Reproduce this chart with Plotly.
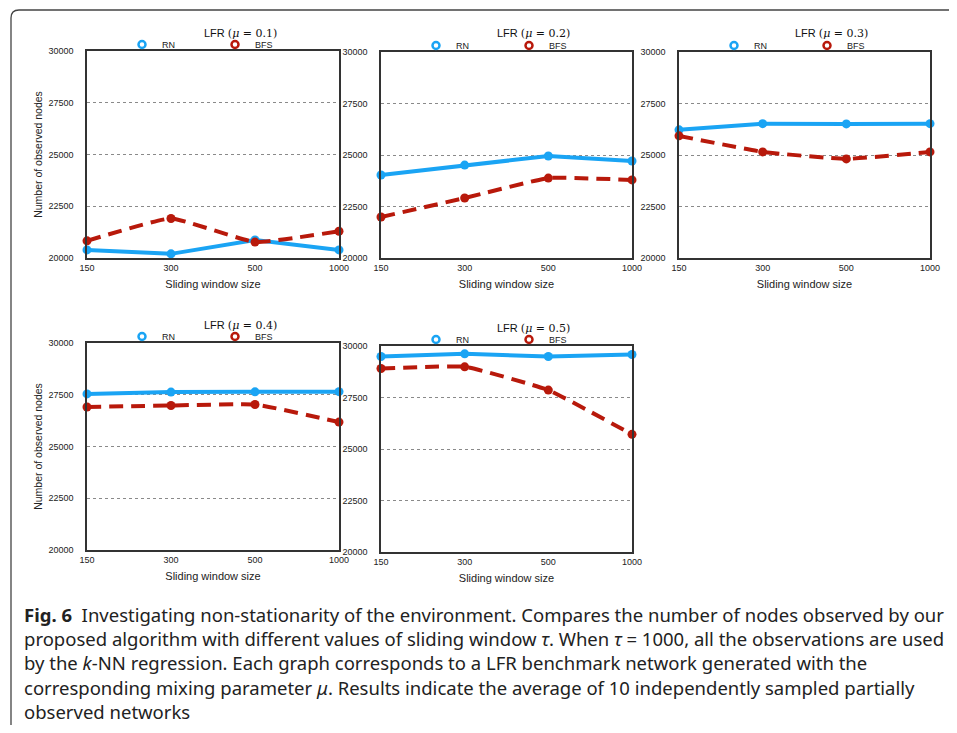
import plotly.graph_objects as go

# page has an 8px body margin: size the figure so the page fits the 957x733 window
OFF = 8
W, H = 957 - 2 * OFF, 733 - 2 * OFF

window_sizes = ["150", "300", "500", "1000"]
mu_labels = ["0.1", "0.2", "0.3", "0.4", "0.5"]

rn_mu01 = [20390, 20200, 20870, 20390]
bfs_mu01 = [20830, 21910, 20770, 21290]
rn_mu02 = [24030, 24510, 24950, 24710]
bfs_mu02 = [21990, 22910, 23880, 23790]
rn_mu03 = [26220, 26520, 26510, 26520]
bfs_mu03 = [25930, 25150, 24810, 25150]
rn_mu04 = [27540, 27630, 27640, 27650]
bfs_mu04 = [26910, 26980, 27030, 26180]
rn_mu05 = [29490, 29620, 29490, 29590]
bfs_mu05 = [28910, 28990, 27860, 25710]

rn_series = [rn_mu01, rn_mu02, rn_mu03, rn_mu04, rn_mu05]
bfs_series = [bfs_mu01, bfs_mu02, bfs_mu03, bfs_mu04, bfs_mu05]

y_ticks = [20000, 22500, 25000, 27500, 30000]

RN_COLOR = "#1AA4F4"
BFS_COLOR = "#B8190B"
SANS = "Liberation Sans, Arial, sans-serif"
SERIF = "DejaVu Serif, Liberation Serif, serif"

# panel boxes in window pixels: (x0, x1, y0_top, y1_bottom)
boxes = [
    (87, 339, 51, 258),
    (381, 632, 52, 258),
    (679, 930, 52, 258),
    (87, 339, 343, 550),
    (381, 632, 346, 552),
]


def px(x):
    return (x - OFF) / W


def py(y):
    return 1 - (y - OFF) / H


fig = go.Figure()
layout = dict(
    width=W, height=H,
    margin=dict(l=0, r=0, t=0, b=0, pad=0),
    paper_bgcolor="white", plot_bgcolor="white",
    font=dict(family=SANS, size=9, color="#222"),
    annotations=[], shapes=[],
)

for i, (x0, x1, yt, yb) in enumerate(boxes):
    n = "" if i == 0 else str(i + 1)
    xa, ya = "x" + n, "y" + n
    lg = "legend" + n
    fig.add_trace(go.Scatter(
        x=window_sizes, y=rn_series[i], xaxis=xa, yaxis=ya, mode="lines+markers",
        line=dict(color=RN_COLOR, width=4), marker=dict(size=9, color=RN_COLOR),
        showlegend=False, cliponaxis=False))
    fig.add_trace(go.Scatter(
        x=window_sizes, y=bfs_series[i], xaxis=xa, yaxis=ya, mode="lines+markers",
        line=dict(color=BFS_COLOR, width=4, dash="14px,8px", shape="spline", smoothing=0.35),
        marker=dict(size=9, color=BFS_COLOR),
        showlegend=False, cliponaxis=False))
    # legend entries
    for name, col in (("RN", RN_COLOR), ("BFS", BFS_COLOR)):
        fig.add_trace(go.Scatter(
            x=[None], y=[None], xaxis=xa, yaxis=ya, mode="markers", name=name,
            marker=dict(symbol="circle-open", size=7, color=col, line=dict(width=2.5, color=col)),
            legend=lg, showlegend=True))
    layout[lg] = dict(
        orientation="h", x=px(x0 + 35), y=py(yt - 6.5), xanchor="left", yanchor="middle",
        font=dict(size=9, color="#222"), bgcolor="rgba(0,0,0,0)",
        entrywidth=48, itemwidth=30, tracegroupgap=0,
    )
    axis_common = dict(showline=True, mirror=True, linecolor="#333", linewidth=1.5,
                       zeroline=False, automargin=False)
    layout["xaxis" + n] = dict(
        domain=[px(x0), px(x1)], anchor=ya, type="category", range=[0, 3],
        showgrid=False, ticks="", ticklabelstandoff=0, tickfont=dict(size=9),
        title=dict(text="Sliding window size", font=dict(size=11), standoff=9),
        **axis_common)
    layout["yaxis" + n] = dict(
        domain=[py(yb), py(yt)], anchor=xa, range=[20000, 30000],
        tickvals=y_ticks, ticktext=[str(v) for v in y_ticks],
        showgrid=True, gridcolor="#8a8a8a", gridwidth=1, griddash="dot",
        ticks="", ticklabelstandoff=10, tickfont=dict(size=9),
        **axis_common)
    if i in (0, 3):
        layout["yaxis" + n]["title"] = dict(text="Number of observed nodes",
                                            font=dict(size=10.5), standoff=4)
    cx = (x0 + x1) / 2 + 27
    layout["annotations"].append(dict(
        xref="paper", yref="paper", x=px(cx), y=py(yt - 18), xanchor="center", yanchor="middle",
        showarrow=False, font=dict(size=11, family=SANS, color="#111"),
        text=f"LFR <span style='font-family:{SERIF}'>(<i>μ</i> = {mu_labels[i]})</span>"))

# caption frame
path = (f"M {px(11)},{py(733 + OFF)} L {px(11)},{py(18)} "
        f"Q {px(11)},{py(10)} {px(19)},{py(10)} L {px(957 + OFF)},{py(10)}")
layout["shapes"].append(dict(type="path", xref="paper", yref="paper", path=path,
                             line=dict(color="#444", width=1.3)))

caption_lines = [
    "<b>Fig. 6</b>  Investigating non-stationarity of the environment. Compares the number of nodes observed by our",
    "proposed algorithm with different values of sliding window <i>τ</i>. When <i>τ</i> = 1000, all the observations are used",
    "by the <i>k</i>-NN regression. Each graph corresponds to a LFR benchmark network generated with the",
    "corresponding mixing parameter <i>μ</i>. Results indicate the average of 10 independently sampled partially",
    "observed networks",
]
caption_y = [614, 638, 662, 687, 711]
for line, yy in zip(caption_lines, caption_y):
    layout["annotations"].append(dict(
        xref="paper", yref="paper", x=px(22), y=py(yy), xanchor="left", yanchor="middle",
        showarrow=False, align="left",
        font=dict(size=18.5, family="Noto Sans, sans-serif", color="#222"),
        text=line))

fig.update_layout(**layout)
fig.write_html("out.html")
